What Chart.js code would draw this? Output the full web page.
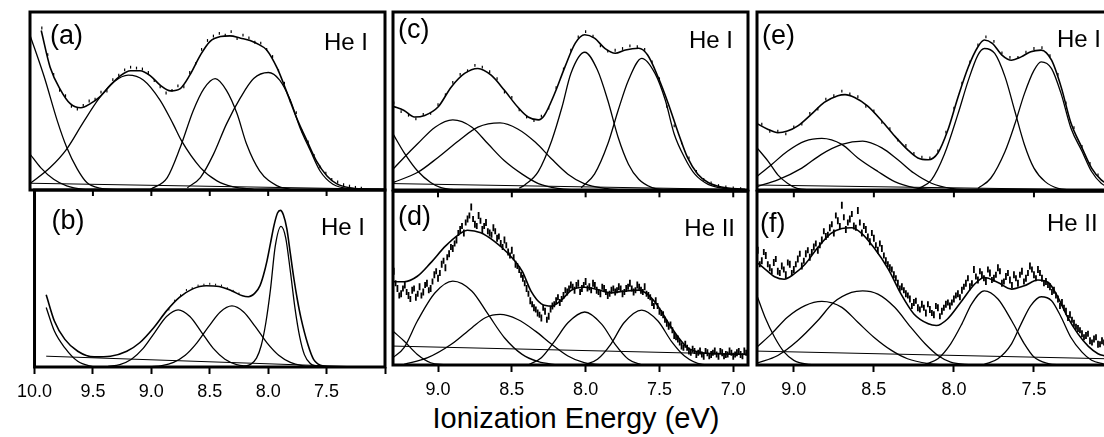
<!DOCTYPE html>
<html>
<head>
<meta charset="utf-8">
<script src="https://cdn.jsdelivr.net/npm/chart.js@4.4.1/dist/chart.umd.min.js"></script>
<style>
  html, body { margin: 0; padding: 0; background: #fff; width: 1104px; height: 437px; overflow: hidden; }
  canvas { position: absolute; }
  #title { position: absolute; left: 276px; top: 403px; width: 600px; text-align: center;
           font: 29px "Liberation Sans", Arial, sans-serif; line-height: 30px; color: #000; }
</style>
</head>
<body>
<div id="title">Ionization Energy (eV)</div>
<script>
// ---- tick values / labels per column ----
const col1Ticks = [10.0, 9.5, 9.0, 8.5, 8.0, 7.5, 7.0];
const col1Labels = ['10.0', '9.5', '9.0', '8.5', '8.0', '7.5', ''];
const col2Ticks = [9.0, 8.5, 8.0, 7.5, 7.0];
const col2Labels = ['9.0', '8.5', '8.0', '7.5', '7.0'];
const col3Ticks = [9.0, 8.5, 8.0, 7.5];
const col3Labels = ['9.0', '8.5', '8.0', '7.5'];

// ---- panel (a) ----
const aBase = [[10.0,3.8],[7.0,0.4]];
const aTail1 = [[10.0,87],[9.88,63.6],[9.77,39],[9.69,24],[9.60,11.7],[9.52,4.2],[9.41,1],[9.26,0.2]];
const aTail2 = [[10.0,20.2],[9.91,12.6],[9.80,6],[9.69,2.3],[9.55,0.4],[9.4,0]];
const aBand1 = [[10.0,3.6],[9.83,12.6],[9.69,23],[9.55,38],[9.41,52],[9.29,60.8],[9.17,64.5],[9.04,61.7],[8.90,50.4],[8.79,37],[8.72,27.7],[8.56,12.6],[8.42,5.1],[8.28,1.7],[8.11,0.4]];
const aBand2 = [[8.98,0.4],[8.84,7],[8.73,24],[8.62,44.7],[8.53,57],[8.435,62.6],[8.34,56],[8.25,42.8],[8.17,25.8],[8.06,10.8],[7.91,2.3],[7.80,0.4]];
const aBand3 = [[8.67,1.3],[8.56,7],[8.45,20],[8.34,37],[8.22,52],[8.11,62.6],[7.985,66],[7.89,61.7],[7.80,50.4],[7.72,35.3],[7.63,22],[7.55,10.8],[7.44,3.2],[7.30,0.8],[7.0,0.3]];
const aFit = [[9.905,89.6],[9.83,69],[9.74,56],[9.66,48.5],[9.57,46.2],[9.49,48.5],[9.41,52.3],[9.32,58.9],[9.24,64],[9.15,67],[9.07,67],[8.98,64],[8.90,58.9],[8.81,55.7],[8.73,57],[8.65,64.5],[8.56,75.8],[8.48,83.4],[8.39,86.2],[8.31,86.6],[8.22,85.3],[8.14,84],[8.06,81.5],[8.00,78.7],[7.91,68.3],[7.83,55],[7.75,41],[7.66,27.7],[7.58,16.4],[7.49,7.9],[7.41,3.6],[7.30,1.3],[7.15,0.6],[7.01,0.2]];
const aSignalStart = 9.90, aSignalStep = 0.05;
const aSignal = [91,76,65,56,53,47,45.5,47.5,50,51,55,55.5,62,64.5,67.5,69,68.5,68,66,61.5,58,54.5,56,58.5,58,66,71,79,84,86.5,88,87,89,85,87,85.5,83,82.5,79,75,67,60,50,43.5,33,27,19.5,13,9.5,6,4.5,3,2.2,1.5,1];

// ---- panel (b) ----
const bBase = [[9.9,6.1],[7.2,0]];
const bTail = [[9.90,33.6],[9.83,20.3],[9.74,10.8],[9.63,3.2],[9.49,0]];
const bBand1 = [[9.37,0.4],[9.27,1.4],[9.17,4.4],[9.07,10.5],[8.97,19.6],[8.87,28.5],[8.77,32.3],[8.67,28.5],[8.57,19.6],[8.47,10.5],[8.37,4.4],[8.27,1.4],[8.17,0.4]];
const bBand2 = [[9.01,0.2],[8.91,0.8],[8.81,2.6],[8.71,6.6],[8.61,13.6],[8.51,22.8],[8.41,31.1],[8.31,34.5],[8.21,31.1],[8.11,22.8],[8.01,13.6],[7.91,6.6],[7.81,2.6],[7.71,0.8],[7.61,0.2]];
const bBand3 = [[8.21,0.3],[8.15,1.5],[8.10,5],[8.06,12],[8.02,25],[7.98,44],[7.94,68],[7.89,79.5],[7.85,73],[7.81,54],[7.77,33],[7.73,17],[7.69,7],[7.64,2],[7.58,0.3]];
const bFit = [[9.90,40.8],[9.83,26],[9.74,15.6],[9.63,8.9],[9.49,5.7],[9.35,6.1],[9.21,8.9],[9.10,13.7],[8.98,22.2],[8.87,31.7],[8.76,39.3],[8.65,44],[8.53,45.9],[8.42,45.5],[8.31,43],[8.22,40.2],[8.17,39.7],[8.11,42],[8.07,46],[8.04,52],[8.01,60],[7.98,70],[7.95,80],[7.92,87],[7.895,88.5],[7.87,86],[7.84,78],[7.81,64],[7.78,50],[7.75,38],[7.72,27.9],[7.66,12.7],[7.61,4.2],[7.52,0.4],[7.44,0]];
const bSignalStart = 8.85, bSignalStep = 0.05;
const bSignal = [32.5,37.5,40.5,43.5,44.5,46,46.5,47,46.5,46,44.5,43,41.5];

// ---- panel (c) ----
const cBase = [[9.305,3.6],[6.9,0.2]];
const cTail = [[9.305,31.5],[9.23,21],[9.14,10.8],[9.05,4.2],[8.98,1.3],[8.91,0.4],[8.85,0]];
const cBand1 = [[9.305,11.7],[9.23,18.3],[9.14,25.8],[9.02,35.3],[8.90,39.4],[8.77,35.3],[8.66,25.8],[8.55,16.4],[8.43,8.9],[8.32,3.6],[8.19,0.9],[8.05,0]];
const cBand2 = [[9.305,4.2],[9.14,9.8],[9.0,18.3],[8.86,27.7],[8.73,35.3],[8.58,37.7],[8.46,34.3],[8.34,26.8],[8.23,17.4],[8.12,8.9],[8.01,3.6],[7.87,0.9],[7.73,0]];
const cBand3 = [[8.45,1],[8.41,3],[8.32,10.5],[8.23,27.7],[8.16,46.6],[8.10,65.5],[8.006,77.4],[7.92,67.4],[7.85,50.4],[7.78,29.6],[7.71,14.5],[7.64,6],[7.55,1.3],[7.46,0]];
const cBand4 = [[8.03,1.3],[7.94,8.9],[7.85,25.8],[7.78,44.7],[7.71,61.7],[7.62,74],[7.53,65.5],[7.46,50.4],[7.40,31.5],[7.33,18.3],[7.26,8.9],[7.17,3.2],[7.06,0.9],[6.92,0]];
const cFit = [[9.305,47],[9.23,44.7],[9.16,41],[9.09,41.9],[9.0,46.6],[8.91,57.9],[8.82,65.5],[8.73,68.3],[8.64,64.5],[8.55,56],[8.46,46.6],[8.39,41],[8.32,39.4],[8.28,41.9],[8.21,54.2],[8.14,69.2],[8.07,82.5],[8.006,87.2],[7.94,85.3],[7.87,79.6],[7.80,76.8],[7.73,78.7],[7.64,79.6],[7.58,75.8],[7.51,63.6],[7.44,48.5],[7.37,31.5],[7.31,18.3],[7.24,8.9],[7.17,4.2],[7.08,1.7],[6.92,0.4]];
const cSignalStart = 9.30, cSignalStep = 0.05;
const cSignal = [49,44,42,40,42.5,43,48,53.5,60.5,65,67,70,69,66.5,62.5,55,52,45,41,39,41.5,46,57.5,68,78.5,86,89,86.5,81,78,78.5,79.5,81,80.5,79,72,62.5,47,36,26.5,18,10.5,6,4,2.5,1.8,1.2,0.8,0.6];

// ---- panel (d) ----
const dBase = [[9.305,10.9],[6.9,6.1]];
const dTail = [[9.305,19.5],[9.23,13.8],[9.14,6.1],[9.05,1.3],[8.95,0]];
const dBand1 = [[9.305,4.2],[9.23,10],[9.14,25.3],[9.02,41.6],[8.90,48.3],[8.77,42.5],[8.66,29.1],[8.55,15.7],[8.43,6.1],[8.32,1.9],[8.19,0]];
const dBand2 = [[9.23,0.4],[9.07,4.2],[8.91,11.9],[8.77,21.5],[8.68,27.2],[8.58,29.1],[8.46,26.2],[8.34,19.5],[8.23,11.9],[8.12,5.2],[8.01,1.3],[7.89,0]];
const dBand3 = [[8.39,0],[8.30,4.2],[8.21,13.8],[8.12,24.3],[8.006,30.5],[7.89,23.4],[7.80,11.9],[7.71,3.3],[7.62,0]];
const dBand4 = [[8.01,0],[7.92,3.3],[7.83,11.9],[7.74,24.3],[7.62,31.6],[7.51,25.3],[7.42,13.8],[7.33,5.2],[7.21,0.4],[7.12,0]];
const dFit = [[9.305,47.9],[9.23,47.9],[9.14,51.1],[9.05,58.8],[8.95,68.4],[8.86,75.1],[8.80,77.6],[8.71,76.1],[8.62,71.3],[8.53,64.6],[8.43,54],[8.37,42.5],[8.30,35.2],[8.23,33.9],[8.16,37.7],[8.10,42.9],[8.006,44.8],[7.92,43.5],[7.83,41.6],[7.74,42.5],[7.64,43.1],[7.58,40.6],[7.51,33.9],[7.44,24.3],[7.37,15.7],[7.31,10],[7.21,7.1],[7.10,6.5],[6.90,6.1]];
const dSignalStart = 9.30, dSignalStep = 0.025;
const dSignal = [54,44,41,46,40,43,39,45,42,47,44,52,50,58,56,64,67,72,78,76,84,91,81,86,78,82,76,79,73,70,72,65,66,58,55,50,44,37,33,30,27,31,28,34,37,36,40,42,46,43,47,44,48,45,47,43,41,44,40,43,42,45,41,44,47,42,46,43,45,40,36,37,31,29,24,23,17,15,11,12,8,9,6,8,5,7,6,8,5,7,6,8,5,7,6,8,7];
const dSignal2Start = 9.2875;
const dSignal2 = [47,40,44,42,38,44,41,40,46,43,48,54,53,60,62,68,70,76,80,82,86,84,80,83,80,77,75,77,74,68,69,63,62,57,52,47,41,35,32,29,33,26,32,35,39,38,43,44,45,46,42,46,44,43,46,42,45,42,41,44,43,44,42,45,44,43,45,42,41,39,34,34,30,26,22,20,16,13,10,10,7,8,7,6,8,5,7,6,8,5,6,7,6,8,5,7];

// ---- panel (e) ----
const eBase = [[9.23,2.8],[7.05,0]];
const eTail = [[9.23,23.7],[9.16,16.1],[9.10,8.5],[9.04,3.8],[8.98,0.9],[8.89,0]];
const eBand1 = [[9.23,7.6],[9.14,14.2],[9.04,21.8],[8.93,27.5],[8.825,29],[8.70,25.6],[8.60,18],[8.475,10.4],[8.37,4.7],[8.25,1.3],[8.12,0]];
const eBand2 = [[9.23,1.9],[9.10,5.7],[8.95,12.3],[8.83,19.9],[8.70,25.6],[8.57,27.5],[8.45,23.7],[8.35,17],[8.25,9.5],[8.14,3.8],[8.02,0.9],[7.89,0]];
const eBand3 = [[8.225,0.6],[8.14,5.7],[8.06,19.9],[7.975,42.6],[7.91,61.6],[7.85,75.8],[7.81,79.5],[7.745,76.7],[7.68,63.4],[7.62,44.5],[7.56,25.6],[7.50,12.3],[7.43,4.7],[7.35,0.9],[7.27,0]];
const eBand4 = [[7.85,0.9],[7.77,6.6],[7.68,21.8],[7.62,36.9],[7.56,54],[7.50,67.2],[7.455,72],[7.39,68.2],[7.33,54],[7.27,35],[7.20,21.8],[7.14,10.4],[7.08,3.8],[7.02,0.9]];
const eFit = [[9.23,37.3],[9.16,34],[9.10,32.2],[9.04,33.1],[8.975,36],[8.89,42.6],[8.81,49.2],[8.725,53],[8.68,53.6],[8.62,52],[8.54,47.3],[8.45,38.8],[8.37,30.3],[8.29,22.7],[8.225,18],[8.16,17],[8.10,20.8],[8.04,33.1],[7.975,52],[7.91,69.1],[7.85,80.5],[7.81,84.3],[7.76,82.4],[7.70,75.8],[7.64,72.9],[7.58,74.8],[7.52,77.7],[7.455,78.6],[7.39,72.9],[7.33,57.8],[7.27,37.9],[7.20,23.7],[7.14,12.3],[7.08,5.7],[7.02,2.5]];
const eSignalStart = 9.20, eSignalStep = 0.05;
const eSignal = [37,33,33,31.5,35.5,37,43,45.5,51,53,55.5,54,52.5,47,44.5,38,34.5,28,25,20.5,18.5,18,22,32.5,46,60,72,81.5,86,83.5,77,74.5,74.5,77.5,79.5,80,75.5,65,49,35,24.5,15,8.5,5];

// ---- panel (f) ----
const fBase = [[9.23,8],[7.05,3.6]];
const fTail = [[9.23,39.9],[9.18,27.5],[9.12,16],[9.06,7.4],[9.0,2.7],[8.91,0.4],[8.83,0]];
const fBand1 = [[9.23,10.3],[9.14,17.9],[9.04,27.5],[8.93,34.2],[8.825,36.6],[8.70,33.2],[8.60,24.6],[8.50,16],[8.39,8.4],[8.29,3.6],[8.16,0.8],[8.06,0]];
const fBand2 = [[9.23,1.1],[9.10,5.5],[8.975,14.1],[8.85,25.6],[8.75,36.1],[8.64,41.8],[8.57,42.7],[8.475,40.8],[8.37,33.2],[8.27,21.8],[8.18,12.2],[8.10,5.5],[8.02,1.7],[7.89,0]];
const fBand3 = [[8.18,0.4],[8.10,3.6],[8.02,12.2],[7.95,23.7],[7.89,35.1],[7.81,42.7],[7.725,38],[7.64,25.6],[7.56,12.2],[7.50,4.6],[7.41,0.8],[7.33,0]];
const fBand4 = [[7.81,0.4],[7.725,3.6],[7.64,12.2],[7.58,23.7],[7.52,34.2],[7.455,39.3],[7.39,37],[7.33,27.5],[7.27,16],[7.20,7.4],[7.14,2.7],[7.06,0.4]];
const fFit = [[9.23,59],[9.18,55.2],[9.12,50.8],[9.06,49.4],[9.0,52.3],[8.93,58],[8.85,67.6],[8.77,75.6],[8.70,78.6],[8.64,79],[8.58,76.1],[8.50,67.6],[8.41,55.2],[8.33,40.8],[8.25,29.4],[8.16,23.7],[8.11,22.7],[8.04,26.5],[7.95,37],[7.87,46.6],[7.81,50.4],[7.725,47.5],[7.64,43.7],[7.56,45.6],[7.475,48.9],[7.41,47.5],[7.35,38.9],[7.29,27.5],[7.225,17.9],[7.16,10.7],[7.10,6.5],[7.05,5]];
const fSignalStart = 9.225, fSignalStep = 0.025;
const fSignal = [66,60,63,56,59,54,57,52,58,55,61,57,64,62,68,66,72,74,79,76,83,92,78,84,80,89,76,78,71,73,66,67,60,56,52,47,45,41,38,36,33,35,30,32,29,33,31,35,34,38,41,43,47,45,55,49,52,48,53,50,56,47,51,49,52,47,54,50,57,52,55,50,48,45,43,38,36,31,29,24,21,18,17,14,15,12,14,11];
const fSignal2Start = 9.2125;
const fSignal2 = [58,65,58,54,61,53,55,59,53,58,64,60,66,65,70,69,77,75,81,86,80,85,82,87,79,82,80,74,76,69,70,63,58,55,50,44,43,40,34,37,32,33,35,30,34,28,33,36,36,40,39,45,50,47,51,54,50,55,49,52,54,48,53,46,50,52,48,53,55,50,53,47,46,42,40,34,33,27,26,22,20,16,18,13,16,12,13];

// ---- helpers ----
const FONT = '"Liberation Sans", Arial, sans-serif';

function curve(points, width) {
    return {
        data: points.map(p => ({ x: p[0], y: p[1] })),
        borderColor: '#000',
        borderWidth: width,
        pointRadius: 0,
        fill: false,
        cubicInterpolationMode: 'monotone'
    };
}

function signal(start, step, values, size, width) {
    return {
        data: values.map((v, i) => ({ x: +(start - i * step).toFixed(4), y: v })),
        showLine: false,
        pointStyle: 'line',
        rotation: 90,
        pointRadius: size,
        pointHoverRadius: size,
        pointBorderWidth: width,
        pointBorderColor: '#000',
        pointBackgroundColor: '#000'
    };
}

const panelFrame = {
    id: 'panelFrame',
    afterDatasetsDraw(chart, args, opts) {
        const { ctx, chartArea: a } = chart;
        ctx.save();
        ctx.strokeStyle = '#000';
        ctx.lineWidth = 3;
        ctx.strokeRect(a.left, a.top, a.right - a.left, a.bottom - a.top);
        if (opts.innerTicks) {
            const sx = chart.scales.x;
            ctx.lineWidth = 2;
            sx.ticks.forEach(t => {
                const px = sx.getPixelForValue(t.value);
                ctx.beginPath();
                ctx.moveTo(px, a.top);
                ctx.lineTo(px, a.top + 6);
                ctx.stroke();
            });
        }
        ctx.fillStyle = '#000';
        ctx.textBaseline = 'alphabetic';
        ctx.font = '27px ' + FONT;
        ctx.textAlign = 'left';
        ctx.fillText(opts.tag, a.left + opts.tagX, a.top + opts.tagY);
        ctx.font = '24px ' + FONT;
        ctx.textAlign = opts.lampAlign;
        const lx = opts.lampAlign === 'right' ? a.right + opts.lampX : a.left + opts.lampX;
        ctx.fillText(opts.lamp, lx, a.top + opts.lampY);
        ctx.restore();
    }
};

// layout of each panel's plot area, in page pixels
const PADX = 20, PADY = 4, AXIS_H = 36;

function makePanel(cfg) {
    const w = cfg.right - cfg.left, h = cfg.bottom - cfg.top;
    const canvas = document.createElement('canvas');
    canvas.width = w + 2 * PADX;
    canvas.height = h + PADY + (cfg.axis ? AXIS_H : PADY);
    canvas.style.left = (cfg.left - PADX) + 'px';
    canvas.style.top = (cfg.top - PADY) + 'px';
    canvas.style.width = canvas.width + 'px';
    canvas.style.height = canvas.height + 'px';
    document.body.appendChild(canvas);

    return new Chart(canvas, {
        type: 'line',
        data: { datasets: cfg.datasets },
        options: {
            responsive: false,
            animation: false,
            events: [],
            layout: { padding: { left: PADX, right: PADX, top: PADY, bottom: cfg.axis ? 0 : PADY } },
            plugins: {
                legend: { display: false },
                tooltip: { enabled: false },
                panelFrame: cfg.text
            },
            scales: {
                x: {
                    type: 'linear',
                    reverse: true,
                    min: cfg.min,
                    max: cfg.max,
                    display: cfg.axis,
                    afterBuildTicks: s => { s.ticks = cfg.ticks.map(v => ({ value: v })); },
                    afterFit: s => { s.height = cfg.axis ? AXIS_H : 0; },
                    ticks: {
                        callback: (v, i) => cfg.labels[i],
                        autoSkip: false,
                        maxRotation: 0,
                        padding: 7,
                        color: '#000',
                        font: { family: FONT, size: 18 }
                    },
                    grid: { drawOnChartArea: false, drawTicks: true, tickLength: 7, tickWidth: 2, tickColor: '#000' },
                    border: { display: false }
                },
                y: { type: 'linear', min: 0, max: 100, display: false }
            }
        },
        plugins: [panelFrame]
    });
}

const thin = 1.3, fitW = 1.6;

makePanel({
    left: 30, right: 385, top: 12, bottom: 190, min: 7.0, max: 10.0, axis: false,
    ticks: col1Ticks, labels: col1Labels,
    text: { tag: '(a)', tagX: 20, tagY: 32, lamp: 'He I', lampX: -17, lampY: 38, lampAlign: 'right' },
    datasets: [signal(aSignalStart, aSignalStep, aSignal, 1.4, 1.2), curve(aFit, fitW), curve(aBase, 1),
               curve(aTail1, thin), curve(aTail2, thin), curve(aBand1, thin), curve(aBand2, thin), curve(aBand3, thin)]
});
makePanel({
    left: 30, right: 385, top: 190, bottom: 367, min: 7.0, max: 10.0, axis: true,
    ticks: col1Ticks, labels: col1Labels,
    text: { tag: '(b)', tagX: 17, tagY: 39, lamp: 'He I', lampX: -20, lampY: 45, lampAlign: 'right', innerTicks: true },
    datasets: [signal(bSignalStart, bSignalStep, bSignal, 1, 1), curve(bFit, fitW), curve(bBase, 1),
               curve(bTail, thin), curve(bBand1, thin), curve(bBand2, thin), curve(bBand3, thin)]
});
makePanel({
    left: 393, right: 748, top: 12, bottom: 190, min: 6.9, max: 9.305, axis: false,
    ticks: col2Ticks, labels: col2Labels,
    text: { tag: '(c)', tagX: 5, tagY: 26, lamp: 'He I', lampX: -15, lampY: 36, lampAlign: 'right' },
    datasets: [signal(cSignalStart, cSignalStep, cSignal, 1.4, 1.2), curve(cFit, fitW), curve(cBase, 1),
               curve(cTail, thin), curve(cBand1, thin), curve(cBand2, thin), curve(cBand3, thin), curve(cBand4, thin)]
});
makePanel({
    left: 393, right: 748, top: 190, bottom: 365, min: 6.9, max: 9.305, axis: true,
    ticks: col2Ticks, labels: col2Labels,
    text: { tag: '(d)', tagX: 5, tagY: 34, lamp: 'He II', lampX: -13, lampY: 45, lampAlign: 'right', innerTicks: true },
    datasets: [signal(dSignalStart, dSignalStep, dSignal, 3.5, 1.8), signal(dSignal2Start, dSignalStep, dSignal2, 3, 1.8),
               curve(dFit, fitW), curve(dBase, 1),
               curve(dTail, thin), curve(dBand1, thin), curve(dBand2, thin), curve(dBand3, thin), curve(dBand4, thin)]
});
makePanel({
    left: 757, right: 1106, top: 12, bottom: 190, min: 7.05, max: 9.23, axis: false,
    ticks: col3Ticks, labels: col3Labels,
    text: { tag: '(e)', tagX: 5, tagY: 32, lamp: 'He I', lampX: 300, lampY: 35, lampAlign: 'left' },
    datasets: [signal(eSignalStart, eSignalStep, eSignal, 1.4, 1.2), curve(eFit, fitW), curve(eBase, 1),
               curve(eTail, thin), curve(eBand1, thin), curve(eBand2, thin), curve(eBand3, thin), curve(eBand4, thin)]
});
makePanel({
    left: 757, right: 1106, top: 190, bottom: 365, min: 7.05, max: 9.23, axis: true,
    ticks: col3Ticks, labels: col3Labels,
    text: { tag: '(f)', tagX: 3, tagY: 41, lamp: 'He II', lampX: 290, lampY: 40, lampAlign: 'left', innerTicks: true },
    datasets: [signal(fSignalStart, fSignalStep, fSignal, 3.5, 1.8), signal(fSignal2Start, fSignalStep, fSignal2, 3, 1.8),
               curve(fFit, fitW), curve(fBase, 1),
               curve(fTail, thin), curve(fBand1, thin), curve(fBand2, thin), curve(fBand3, thin), curve(fBand4, thin)]
});
</script>
</body>
</html>
